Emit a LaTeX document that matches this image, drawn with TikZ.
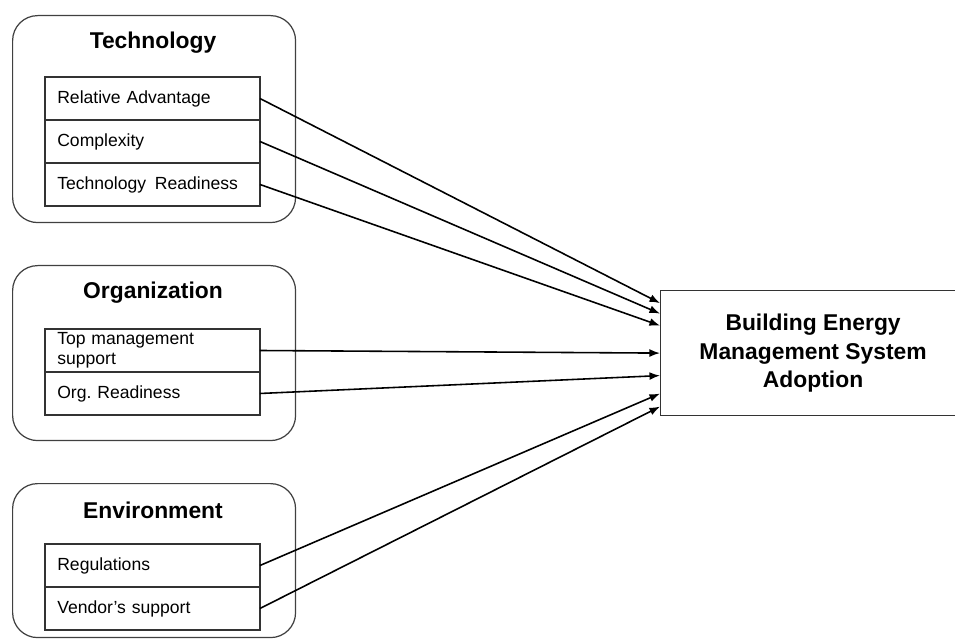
\documentclass[tikz,border=0pt]{standalone}
\usepackage{fontspec}
\setmainfont{Liberation Sans}
\usepackage{tikz}
\usetikzlibrary{positioning}
\usetikzlibrary{arrows.meta}
\tikzset{>={Latex[length=6pt,width=4.5pt]}}
\frenchspacing
\tikzset{
	grp/.style={draw=black!75, line width=0.7pt, rounded corners=0.5cm, anchor=north west, minimum width=5.66cm},
	grptitle/.style={font=\fontsize{13}{16}\selectfont\bfseries},
	row/.style={draw=black!80, line width=0.7pt, anchor=north west, outer sep=0pt, minimum width=4.3cm, minimum height=0.86cm,
		inner xsep=7pt, inner ysep=1pt, text width=4.3cm-14pt, align=left, font=\fontsize{10}{11.5}\selectfont},
	goal/.style={draw=black!80, line width=0.7pt, anchor=north west, minimum width=6.1cm, minimum height=2.5cm,
		align=center, font=\fontsize{13}{16}\selectfont\bfseries},
	link/.style={->, line width=0.9pt},
}
\begin{document}
\begin{tikzpicture}[x=0.02cm,y=-0.02cm]
			\useasboundingbox (0,0) rectangle (955,641);
			% groups
			\node[grp, minimum height=4.14cm] (tech) at (12,15) {};
			\node[grp, minimum height=3.5cm] (org) at (12,265) {};
			\node[grp, minimum height=3.08cm] (env) at (12,483) {};
			\node[grptitle] (techT) at (153,43) {Technology};
			\node[grptitle] (orgT) at (153,293) {Organization};
			\node[grptitle] (envT) at (153,510) {Environment};
			% factors
			\node[row] (ra) at (45,77) {Relative Advantage};
			\node[row, below=0pt of ra.south west, anchor=north west] (cx) {Complexity};
			\node[row, below=0pt of cx.south west, anchor=north west] (tr) {Technology\, Readiness};
			\node[row] (tm) at (45,329) {Top management\\support};
			\node[row, below=0pt of tm.south west, anchor=north west] (ord) {Org. Readiness};
			\node[row] (reg) at (45,544) {Regulations};
			\node[row, below=0pt of reg.south west, anchor=north west] (vs) {Vendor's support};
			% outcome
			\node[goal] (bems) at (660,290) {Building Energy\\Management System\\Adoption};
			\draw[link] (ra.east)--([yshift=1.0cm]bems.west);
			\draw[link] (cx.east)--([yshift=0.79cm]bems.west);
			\draw[link] (tr.east)--([yshift=0.55cm]bems.west);
			\draw[link] (tm.east)--(bems.west);
			\draw[link] (ord.east)--([yshift=-0.45cm]bems.west);
			\draw[link] (reg.east)--([yshift=-0.81cm]bems.west);
			\draw[link] (vs.east)--([yshift=-1.07cm]bems.west);
		\end{tikzpicture}
\end{document}
